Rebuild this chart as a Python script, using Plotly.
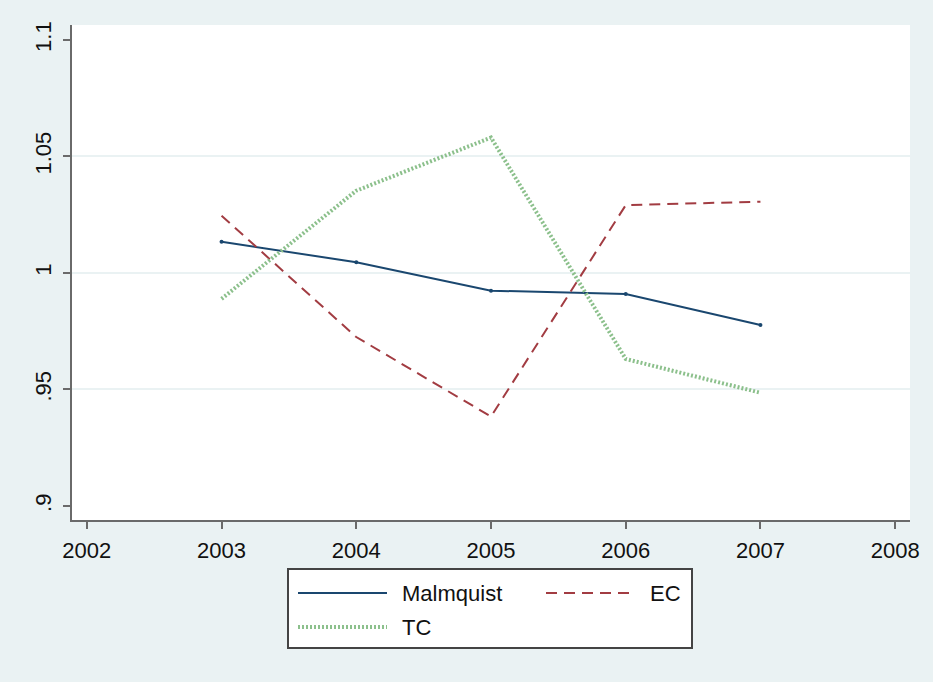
import plotly.graph_objects as go

# Productivity indices by year
years = [2003, 2004, 2005, 2006, 2007]
malmquist = [1.0134, 1.0046, 0.9924, 0.9910, 0.9777]
ec = [1.0246, 0.9725, 0.9384, 1.0291, 1.0306]
tc = [0.9889, 1.0353, 1.0581, 0.9631, 0.9486]

x_ticks = [2002, 2003, 2004, 2005, 2006, 2007, 2008]
y_ticks = [0.9, 0.95, 1.0, 1.05, 1.1]
y_tick_text = [".9", ".95", "1", "1.05", "1.1"]
y_grid = [0.95, 1.0, 1.05]

series_names = ["Malmquist", "EC", "TC"]
colors = {"Malmquist": "#1a476f", "EC": "#a23c42", "TC": "#8cc08c"}
dashes = {"Malmquist": "solid", "EC": "11px,7px", "TC": "2px,2px"}
widths = {"Malmquist": 2, "EC": 2, "TC": 4}

W, H = 933, 682
L, R, T, B = 72, 23, 25, 162
FONT = "Liberation Sans, Arial, Helvetica, sans-serif"
FS = 22
BG = "#eaf2f3"
AXIS = "#6a6a6a"

fig = go.Figure()

fig.add_trace(go.Scatter(
    x=years, y=malmquist, mode="lines+markers", name="Malmquist",
    line=dict(color=colors["Malmquist"], width=widths["Malmquist"]),
    marker=dict(size=4, color=colors["Malmquist"]), showlegend=False))
fig.add_trace(go.Scatter(
    x=years, y=ec, mode="lines", name="EC",
    line=dict(color=colors["EC"], width=widths["EC"], dash=dashes["EC"]),
    showlegend=False))
fig.add_trace(go.Scatter(
    x=years, y=tc, mode="lines", name="TC",
    line=dict(color=colors["TC"], width=widths["TC"], dash=dashes["TC"]),
    showlegend=False))

# pixel -> paper helpers for the boxed legend below the plot
pw, ph = W - L - R, H - T - B


def px(xp):
    return (xp - L) / pw


def py(yp):
    return (H - B - yp) / ph


shapes = [dict(type="rect", xref="paper", yref="paper",
               x0=px(288), x1=px(692), y0=py(569), y1=py(648),
               fillcolor="white", line=dict(color="#444444", width=2))]
annotations = []
legend_slots = {"Malmquist": (298, 593), "EC": (546, 593), "TC": (298, 627)}
for name in series_names:
    x0, yy = legend_slots[name]
    shapes.append(dict(type="line", xref="paper", yref="paper",
                       x0=px(x0), x1=px(x0 + 89), y0=py(yy), y1=py(yy),
                       line=dict(color=colors[name], width=widths[name],
                                 dash=dashes[name])))
    annotations.append(dict(xref="paper", yref="paper", x=px(x0 + 102), y=py(yy),
                            text=name, showarrow=False, xanchor="left",
                            yanchor="middle",
                            font=dict(family=FONT, size=FS, color="#111111")))

fig.update_layout(
    width=W, height=H,
    margin=dict(l=L, r=R, t=T, b=B),
    paper_bgcolor=BG, plot_bgcolor="white",
    font=dict(family=FONT, size=FS, color="#111111"),
    shapes=shapes, annotations=annotations,
    xaxis=dict(range=[2001.89, 2008.11], tickvals=x_ticks,
               ticks="outside", ticklen=7, tickwidth=2, tickcolor=AXIS,
               showline=True, linecolor=AXIS, linewidth=2,
               showgrid=False, zeroline=False, ticklabelstandoff=3),
    yaxis=dict(range=[0.894, 1.1064], tickvals=y_ticks, ticktext=y_tick_text,
               tickangle=-90, ticks="outside", ticklen=7, tickwidth=2,
               tickcolor=AXIS, showline=True, linecolor=AXIS, linewidth=2,
               showgrid=False, zeroline=False, ticklabelstandoff=3,
               minor=dict(tickvals=y_grid, showgrid=True, gridcolor=BG,
                          gridwidth=2, ticks="")),
)

fig.write_html("out.html")
